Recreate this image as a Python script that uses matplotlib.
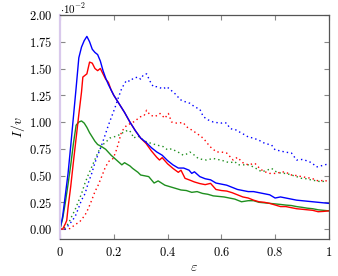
import matplotlib
matplotlib.use('Agg')
import matplotlib.pyplot as plt
import numpy as np

matplotlib.rc('mathtext', fontset='cm')
matplotlib.rc('font', **{'family': 'serif', 'serif': ['DejaVu Serif'], 'size': 8})

# values, y in units of 1e-2
x_blue = [0, 0.01, 0.02, 0.03, 0.04, 0.05, 0.06, 0.07, 0.08, 0.09, 0.10, 0.11, 0.12, 0.13, 0.14,
          0.15, 0.16, 0.17, 0.18, 0.19, 0.20, 0.22, 0.24, 0.26, 0.28, 0.30, 0.32, 0.34, 0.36, 0.38,
          0.40, 0.42, 0.44, 0.46, 0.48, 0.49, 0.50, 0.52, 0.54, 0.56, 0.58, 0.60, 0.62, 0.64, 0.66,
          0.68, 0.70, 0.72, 0.74, 0.76, 0.78, 0.80, 0.82, 0.84, 0.86, 0.88, 0.90, 0.92, 0.94, 0.96,
          0.98, 1.00]
y_blue = [0, 0.12, 0.32, 0.52, 0.78, 1.05, 1.32, 1.60, 1.70, 1.76, 1.80, 1.75, 1.68, 1.65, 1.63,
          1.57, 1.48, 1.41, 1.35, 1.30, 1.25, 1.17, 1.09, 1.00, 0.92, 0.85, 0.81, 0.76, 0.72, 0.69,
          0.64, 0.60, 0.57, 0.57, 0.55, 0.52, 0.535, 0.49, 0.47, 0.46, 0.43, 0.42, 0.41, 0.39, 0.37,
          0.36, 0.35, 0.35, 0.34, 0.33, 0.32, 0.29, 0.30, 0.29, 0.28, 0.27, 0.265, 0.26, 0.255, 0.25,
          0.245, 0.24]

x_red = [0, 0.01, 0.02, 0.025, 0.03, 0.04, 0.05, 0.06, 0.07, 0.08, 0.085, 0.09, 0.10, 0.11, 0.12,
         0.13, 0.14, 0.15, 0.16, 0.17, 0.18, 0.19, 0.20, 0.22, 0.24, 0.26, 0.28, 0.30, 0.32, 0.34,
         0.36, 0.37, 0.38, 0.40, 0.42, 0.44, 0.45, 0.465, 0.48, 0.50, 0.52, 0.54, 0.56, 0.58, 0.60,
         0.62, 0.64, 0.66, 0.68, 0.70, 0.72, 0.74, 0.76, 0.78, 0.80, 0.82, 0.84, 0.86, 0.88, 0.90,
         0.92, 0.94, 0.96, 0.98, 1.00]
y_red = [0, 0.0, 0.05, 0.08, 0.2, 0.4, 0.63, 0.85, 1.07, 1.28, 1.42, 1.43, 1.45, 1.56, 1.55,
         1.50, 1.48, 1.50, 1.45, 1.40, 1.37, 1.30, 1.25, 1.17, 1.09, 1.00, 0.92, 0.85, 0.80, 0.73,
         0.67, 0.645, 0.667, 0.61, 0.567, 0.53, 0.55, 0.474, 0.46, 0.44, 0.425, 0.415, 0.427, 0.37, 0.36,
         0.355, 0.34, 0.32, 0.30, 0.29, 0.27, 0.255, 0.25, 0.24, 0.225, 0.21, 0.21, 0.20, 0.19, 0.185,
         0.18, 0.175, 0.162, 0.165, 0.17]

x_green = [0, 0.01, 0.02, 0.03, 0.04, 0.05, 0.06, 0.07, 0.08, 0.09, 0.10, 0.11, 0.12, 0.13, 0.14,
           0.155, 0.17, 0.19, 0.21, 0.23, 0.24, 0.26, 0.27, 0.29, 0.30, 0.33, 0.35, 0.365, 0.39, 0.41,
           0.43, 0.45, 0.47, 0.49, 0.51, 0.53, 0.55, 0.57, 0.59, 0.61, 0.63, 0.65, 0.675, 0.70, 0.72,
           0.74, 0.76, 0.78, 0.80, 0.82, 0.84, 0.86, 0.88, 0.90, 0.92, 0.94, 0.96, 0.98, 1.00]
y_green = [0, 0.1, 0.25, 0.42, 0.6, 0.8, 0.97, 1.00, 1.01, 0.99, 0.95, 0.90, 0.86, 0.82, 0.79,
           0.77, 0.745, 0.69, 0.645, 0.60, 0.62, 0.59, 0.567, 0.53, 0.505, 0.49, 0.43, 0.45, 0.41, 0.395,
           0.38, 0.365, 0.36, 0.343, 0.35, 0.333, 0.325, 0.31, 0.305, 0.30, 0.29, 0.28, 0.255, 0.265, 0.265,
           0.25, 0.245, 0.24, 0.235, 0.23, 0.224, 0.22, 0.21, 0.203, 0.195, 0.19, 0.18, 0.175, 0.17]

x_blue_dot = [0, 0.02, 0.043, 0.056, 0.068, 0.08, 0.093, 0.105, 0.118, 0.13, 0.142, 0.155, 0.168,
              0.18, 0.192, 0.204, 0.216, 0.229, 0.24, 0.248, 0.26, 0.273, 0.291, 0.30, 0.31, 0.322,
              0.335, 0.347, 0.36, 0.372, 0.384, 0.397, 0.409, 0.421, 0.434, 0.446, 0.465, 0.483,
              0.502, 0.52, 0.533, 0.551, 0.57, 0.582, 0.60, 0.607, 0.62, 0.632, 0.645, 0.657, 0.675,
              0.688, 0.70, 0.719, 0.74, 0.762, 0.787, 0.80, 0.82, 0.836, 0.861, 0.88, 0.90, 0.91,
              0.936, 0.954, 0.97, 0.985, 1.0]
y_blue_dot = [0, 0.0, 0.07, 0.115, 0.19, 0.27, 0.33, 0.43, 0.52, 0.62, 0.70, 0.785, 0.88,
              0.97, 1.05, 1.13, 1.22, 1.31, 1.36, 1.39, 1.38, 1.41, 1.42, 1.40, 1.44, 1.45,
              1.38, 1.33, 1.33, 1.32, 1.31, 1.33, 1.305, 1.28, 1.25, 1.21, 1.19, 1.175,
              1.14, 1.12, 1.05, 1.02, 1.00, 0.995, 0.99, 0.995, 0.99, 0.94, 0.93, 0.925, 0.895,
              0.88, 0.86, 0.85, 0.83, 0.80, 0.785, 0.74, 0.73, 0.72, 0.71, 0.645, 0.65, 0.645,
              0.62, 0.58, 0.59, 0.60, 0.61]

x_red_dot = [0, 0.025, 0.037, 0.056, 0.074, 0.093, 0.105, 0.118, 0.13, 0.142, 0.155, 0.167, 0.18,
             0.198, 0.21, 0.217, 0.229, 0.248, 0.266, 0.28, 0.291, 0.30, 0.313, 0.322, 0.335, 0.353,
             0.372, 0.39, 0.403, 0.415, 0.434, 0.458, 0.471, 0.49, 0.508, 0.527, 0.539, 0.558, 0.582,
             0.60, 0.62, 0.644, 0.66, 0.68, 0.70, 0.725, 0.745, 0.762, 0.78, 0.80, 0.82, 0.836, 0.861,
             0.88, 0.898, 0.92, 0.936, 0.96, 0.985, 1.0]
y_red_dot = [0, 0, 0.005, 0.04, 0.07, 0.13, 0.19, 0.27, 0.35, 0.41, 0.49, 0.567, 0.63,
             0.66, 0.74, 0.80, 0.91, 0.97, 0.99, 1.01, 1.035, 1.05, 1.06, 1.11, 1.065, 1.05,
             1.08, 1.035, 1.08, 1.00, 0.99, 0.995, 0.955, 0.925, 0.895, 0.86, 0.83, 0.77, 0.72,
             0.72, 0.71, 0.645, 0.67, 0.62, 0.60, 0.614, 0.56, 0.535, 0.52, 0.52, 0.53, 0.535, 0.505,
             0.50, 0.49, 0.48, 0.474, 0.45, 0.455, 0.44]

x_green_dot = [0, 0.012, 0.031, 0.043, 0.056, 0.068, 0.08, 0.093, 0.105, 0.118, 0.13, 0.142, 0.155,
               0.17, 0.185, 0.20, 0.22, 0.24, 0.255, 0.266, 0.273, 0.29, 0.31, 0.322, 0.34, 0.36,
               0.384, 0.40, 0.415, 0.43, 0.446, 0.458, 0.47, 0.483, 0.50, 0.514, 0.53, 0.545, 0.57,
               0.585, 0.60, 0.615, 0.632, 0.65, 0.663, 0.675, 0.70, 0.72, 0.75, 0.77, 0.787, 0.80,
               0.824, 0.84, 0.861, 0.88, 0.898, 0.916, 0.936, 0.955, 0.973, 0.99]
y_green_dot = [0, 0.0, 0.05, 0.115, 0.18, 0.255, 0.33, 0.43, 0.505, 0.58, 0.65, 0.72, 0.78,
               0.81, 0.85, 0.86, 0.88, 0.91, 0.925, 0.90, 0.85, 0.87, 0.83, 0.815, 0.80, 0.785,
               0.77, 0.74, 0.75, 0.73, 0.71, 0.69, 0.70, 0.72, 0.69, 0.66, 0.65, 0.645, 0.66,
               0.65, 0.645, 0.63, 0.62, 0.63, 0.60, 0.60, 0.60, 0.58, 0.535, 0.55, 0.567, 0.54,
               0.52, 0.52, 0.505, 0.49, 0.474, 0.47, 0.458, 0.45, 0.44, 0.455]

x_ticks = [0, 0.2, 0.4, 0.6, 0.8, 1.0]
x_tick_labels = ['0', '0.2', '0.4', '0.6', '0.8', '1']
y_ticks = [0, 0.25, 0.5, 0.75, 1.0, 1.25, 1.5, 1.75, 2.0]

blue, red, green = '#0000ff', '#ff0000', '#1f8f1f'

fig = plt.figure(figsize=(3.38, 2.76), dpi=100)
ax = fig.add_axes([0.1775, 0.134, 0.7955, 0.8117])

dots = (0, (1, 2.2))
ax.plot(x_green_dot, y_green_dot, color=green, lw=1, ls=dots)
ax.plot(x_red_dot, y_red_dot, color=red, lw=1, ls=dots)
ax.plot(x_blue_dot, y_blue_dot, color=blue, lw=1, ls=dots)
ax.plot(x_green, y_green, color=green, lw=1)
ax.plot(x_red, y_red, color=red, lw=1)
ax.plot(x_blue, y_blue, color=blue, lw=1)

ax.set_xlim(0, 1)
ax.set_ylim(-0.093, 2.0)
ax.set_xticks(x_ticks)
ax.set_xticklabels(['$%s$' % s for s in x_tick_labels])
ax.set_yticks(y_ticks)
ax.set_yticklabels(['$%.2f$' % v for v in y_ticks])
ax.tick_params(direction='in', length=3.5, width=0.8, color='#888888',
               top=True, right=True, labelsize=9, pad=5)

for side in ['top', 'right', 'bottom']:
    ax.spines[side].set_color('#555555')
    ax.spines[side].set_linewidth(0.9)
ax.spines['left'].set_color('#d9c9ec')
ax.spines['left'].set_linewidth(1.6)

ax.set_xlabel(r'$\varepsilon$', fontsize=10, labelpad=1)
ax.set_ylabel(r'$I/v$', fontsize=10, labelpad=2)
ax.text(0.0, 1.008, r'$\cdot 10^{-2}$', transform=ax.transAxes, fontsize=8,
        ha='left', va='baseline')

plt.savefig('out.png', dpi=100)
